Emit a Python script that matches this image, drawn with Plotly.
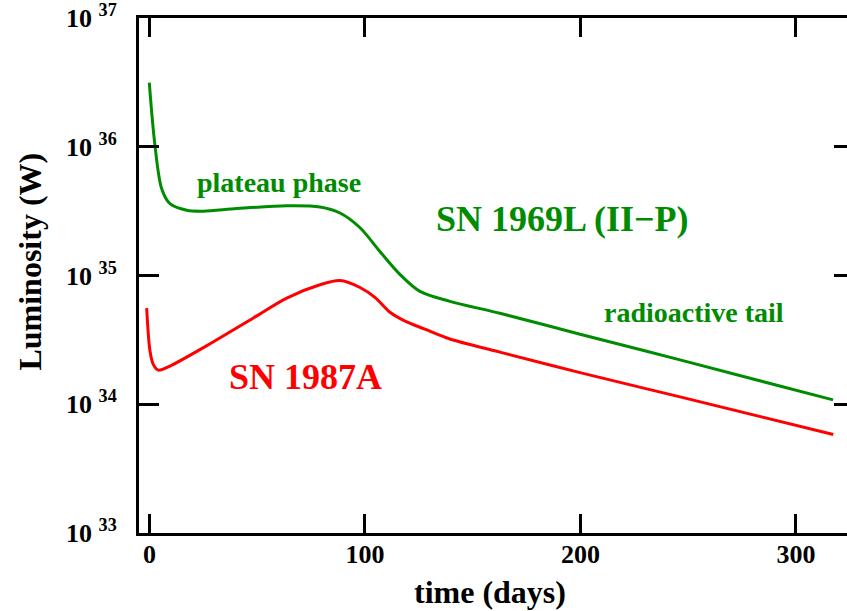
import plotly.graph_objects as go

# SN 1969L (II-P) light curve (green)
days_1969L = [-0.1, 2.55, 5.66, 9.5, 17.3, 25.0, 40.5, 63.7, 79.1, 88.4, 97.7, 107.0,
              116.2, 125.5, 139.4, 162.6, 199.8, 246.2, 317.2]
lum_1969L = [3.15e36, 1.02e36, 4.72e35, 3.61e35, 3.21e35, 3.16e35, 3.31e35, 3.48e35,
             3.41e35, 3.06e35, 2.35e35, 1.53e35, 1.02e35, 7.52e34, 6.30e34, 5.09e34,
             3.50e34, 2.21e34, 1.08e34]

# SN 1987A light curve (red)
days_1987A = [-1.3, 0.23, 1.76, 4.08, 9.5, 25.0, 48.2, 63.7, 79.1, 88.4, 97.7, 104.6,
              111.6, 118.6, 127.8, 139.4, 162.6, 199.8, 246.2, 317.3]
lum_1987A = [5.58e34, 2.59e34, 2.04e34, 1.84e34, 1.98e34, 2.75e34, 4.68e34, 6.68e34,
             8.47e34, 9.14e34, 8.07e34, 6.76e34, 5.18e34, 4.42e34, 3.83e34, 3.21e34,
             2.54e34, 1.76e34, 1.14e34, 5.81e33]

x_ticks = [0, 100, 200, 300]
y_tick_vals = [1e33, 1e34, 1e35, 1e36, 1e37]
y_tick_exps = [33, 34, 35, 36, 37]

GREEN = "#008C00"
RED = "#FF0000"
FONT = "Liberation Serif, Times New Roman, serif"

fig = go.Figure()
fig.add_trace(go.Scatter(x=days_1969L, y=lum_1969L, mode="lines",
                         line=dict(color=GREEN, width=3, shape="spline", smoothing=0.9),
                         showlegend=False, hoverinfo="skip"))
fig.add_trace(go.Scatter(x=days_1987A, y=lum_1987A, mode="lines",
                         line=dict(color=RED, width=3, shape="spline", smoothing=0.9),
                         showlegend=False, hoverinfo="skip"))
# invisible trace to host the right-hand tick axis
fig.add_trace(go.Scatter(x=[days_1987A[0]], y=[lum_1987A[0]], yaxis="y2", mode="markers",
                         marker=dict(opacity=0), showlegend=False, hoverinfo="skip"))

fig.update_layout(
    width=847, height=611,
    margin=dict(l=139, r=0, t=15, b=78),
    paper_bgcolor="white", plot_bgcolor="white",
    font=dict(family=FONT, color="black"),
    xaxis=dict(
        range=[-4.87, 323.67], showgrid=False, zeroline=False,
        showline=True, linecolor="black", linewidth=3, mirror="ticks",
        ticks="inside", ticklen=19, tickwidth=3, tickcolor="black",
        tickvals=x_ticks, ticktext=[f"<b>{v}</b>" for v in x_ticks],
        tickfont=dict(family=FONT, size=26, color="black"),
        ticklabelstandoff=-4,
    ),
    yaxis=dict(
        type="log", range=[32.9995, 37.0005], showgrid=False, zeroline=False,
        showline=True, linecolor="black", linewidth=3, mirror=False,
        ticks="inside", ticklen=20, tickwidth=3, tickcolor="black",
        tickvals=y_tick_vals,
        ticktext=[f"<b>10 <sup>{e}</sup></b>" for e in y_tick_exps],
        tickfont=dict(family=FONT, size=26, color="black"),
        ticklabelstandoff=14, ticklabeloverflow="allow",
    ),
    yaxis2=dict(
        type="log", range=[32.9995, 37.0005], overlaying="y", side="right", anchor="x",
        showgrid=False, zeroline=False, showline=False,
        ticks="inside", ticklen=13, tickwidth=3, tickcolor="black",
        tickvals=y_tick_vals[1:4], showticklabels=False,
    ),
    annotations=[
        dict(text="<b>plateau phase</b>", x=0.1977, y=0.6815, xref="paper", yref="paper",
             xanchor="center", yanchor="middle",
             showarrow=False, font=dict(family=FONT, size=28, color=GREEN)),
        dict(text="<b>SN 1969L (II\u2212P)</b>", x=0.5975, y=0.610, xref="paper", yref="paper",
             xanchor="center", yanchor="middle",
             showarrow=False, font=dict(family=FONT, size=36, color=GREEN)),
        dict(text="<b>radioactive tail</b>", x=0.784, y=0.4286, xref="paper", yref="paper",
             xanchor="center", yanchor="middle",
             showarrow=False, font=dict(family=FONT, size=28, color=GREEN)),
        dict(text="<b>SN 1987A</b>", x=0.2345, y=0.303, xref="paper", yref="paper",
             xanchor="center", yanchor="middle",
             showarrow=False, font=dict(family=FONT, size=36, color=RED)),
        dict(text="<b>Luminosity (W)</b>", x=-0.154, y=0.527, xref="paper", yref="paper",
             xanchor="center", yanchor="middle",
             textangle=-90, showarrow=False, font=dict(family=FONT, size=32, color="black")),
        dict(text="<b>time (days)</b>", x=0.4958, y=-0.1139, xref="paper", yref="paper",
             xanchor="center", yanchor="middle",
             showarrow=False, font=dict(family=FONT, size=32, color="black")),
    ],
)

fig.write_html("out.html")
